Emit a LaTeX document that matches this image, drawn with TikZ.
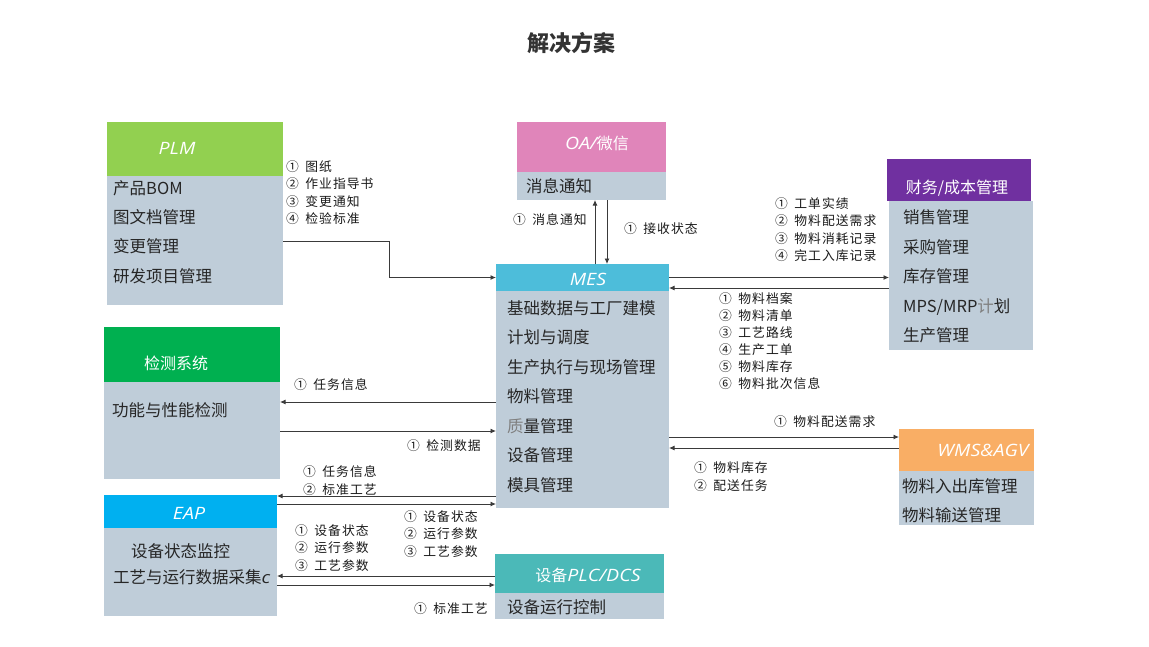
\documentclass[tikz,border=0pt]{standalone}
\usepackage{fontspec}
\setmainfont{Noto Sans CJK SC}
\newfontfamily\hdfont{Open Sans}[FakeStretch=1.15]
\newfontfamily\notefont{Noto Sans CJK SC}[LetterSpace=8]
\usetikzlibrary{positioning,arrows.meta}
\definecolor{plmgreen}{HTML}{92D050}
\definecolor{oapink}{HTML}{E085BA}
\definecolor{cwpurple}{HTML}{7030A0}
\definecolor{mesblue}{HTML}{4DBDDA}
\definecolor{jcgreen}{HTML}{00B050}
\definecolor{eapblue}{HTML}{00B0F0}
\definecolor{plcteal}{HTML}{4BB9B8}
\definecolor{wmsorange}{HTML}{F9AE65}
\definecolor{bodygray}{HTML}{BFCDD9}
\definecolor{itemtext}{HTML}{262626}
\definecolor{notetext}{HTML}{1A1A1A}
\definecolor{linegray}{HTML}{3A3A3A}
\definecolor{titlegray}{HTML}{333333}
\definecolor{faintgray}{HTML}{808080}
\begin{document}
\begin{tikzpicture}[x=1pt, y=-1pt]
        \tikzstyle{hdbox}=[inner sep=0, outer sep=0]
        \tikzstyle{hdtext}=[text=white, inner sep=0, font=\fontsize{16}{18}\selectfont]
        \tikzstyle{bdbox}=[fill=bodygray, inner sep=0, outer sep=0]
        \tikzstyle{items}=[anchor=west, inner sep=0, align=left, text=itemtext, font=\fontsize{16.5}{29.5}\selectfont]
        \tikzstyle{notes}=[anchor=west, inner sep=0, align=left, text=notetext, font=\notefont\fontsize{12.8}{17.3}\selectfont]
        \tikzstyle{flow}=[draw=linegray, line width=0.9pt, -{Latex[length=5.5pt,width=5pt]}]
        \fill[white] (0,0) rectangle (1149,646);
        \node[font=\bfseries\fontsize{22}{26}\selectfont, text=titlegray] (title) at (571,43) {解决方案};
        % Systems
        \node[hdbox, fill=plmgreen, minimum width=176, minimum height=54,
        label={[hdtext, xshift=-18, yshift=1]center:{\hdfont\itshape\fontsize{17}{18}\selectfont PLM}}] (plmhd) at (195,149) {};
        \node[bdbox, minimum width=176, minimum height=129, below=0 of plmhd] (plmbody) {};
        \node[items, font=\fontsize{16.5}{29.3}\selectfont] (plmlist) at (113,232) {产品BOM\\图文档管理\\变更管理\\研发项目管理};
        \node[hdbox, fill=oapink, minimum width=149, minimum height=50,
        label={[hdtext, xshift=5.5, yshift=4]center:{{\hdfont\itshape\fontsize{17}{18}\selectfont OA/}微信}}] (oahd) at (591.5,147) {};
        \node[bdbox, minimum width=149, minimum height=28, below=0 of oahd] (oabody) {};
        \node[items] (oalist) at (526,186) {消息通知};
        \node[hdbox, fill=cwpurple, minimum width=144, minimum height=42,
        label={[hdtext, xshift=-2, yshift=-8]center:{财务/成本管理}}] (cwhd) at (959,180) {};
        \node[bdbox, minimum width=144, minimum height=149, below=0 of cwhd, xshift=2] (cwbody) {};
        \node[items, font=\fontsize{16.5}{29.6}\selectfont] (cwlist) at (903,276.4) {销售管理\\采购管理\\库存管理\\MPS/MRP{\color{faintgray}计}划\\生产管理};
        \node[hdbox, fill=mesblue, minimum width=173, minimum height=27,
        label={[hdtext, xshift=5.5, yshift=-1.5]center:{\hdfont\itshape\fontsize{17}{18}\selectfont MES}}] (meshd) at (582.5,277.5) {};
        \node[bdbox, minimum width=173, minimum height=217, below=0 of meshd] (mesbody) {};
        \node[items] (meslist) at (507,396.5) {基础数据与工厂建模\\计划与调度\\生产执行与现场管理\\物料管理\\{\color{faintgray}质}量管理\\设备管理\\模具管理};
        \node[hdbox, fill=jcgreen, minimum width=176, minimum height=55,
        label={[hdtext, xshift=-16, yshift=-8.5]center:{检测系统}}] (jchd) at (192,354.5) {};
        \node[bdbox, minimum width=176, minimum height=97, below=0 of jchd] (jcbody) {};
        \node[items] (jclist) at (112,410) {功能与性能检测};
        \node[hdbox, fill=eapblue, minimum width=173, minimum height=33,
        label={[hdtext, xshift=-1.5, yshift=-1.5]center:{\hdfont\itshape\fontsize{17}{18}\selectfont EAP}}] (eaphd) at (190.5,511.5) {};
        \node[bdbox, minimum width=173, minimum height=88, below=0 of eaphd] (eapbody) {};
        \node[items, font=\fontsize{16.5}{26}\selectfont] (eaplist) at (113,564.5) {\hspace*{18pt}设备状态监控\\工艺与运行数据采集{\hdfont\itshape c}};
        \node[hdbox, fill=plcteal, minimum width=169, minimum height=39,
        label={[hdtext, xshift=8.5, yshift=-1.5]center:{设备{\hdfont\itshape\fontsize{17}{18}\selectfont PLC/DCS}}}] (plchd) at (579.5,573.5) {};
        \node[bdbox, minimum width=169, minimum height=26, below=0 of plchd] (plcbody) {};
        \node[items] (plclist) at (507,607) {设备运行控制};
        \node[hdbox, fill=wmsorange, minimum width=135, minimum height=42,
        label={[hdtext, xshift=16.5]center:{\hdfont\itshape\fontsize{17}{18}\selectfont WMS\&AGV}}] (wmshd) at (966.5,450) {};
        \node[bdbox, minimum width=135, minimum height=54, below=0 of wmshd] (wmsbody) {};
        \node[items, font=\fontsize{16.5}{29}\selectfont] (wmslist) at (902,500.5) {物料入出库管理\\物料输送管理};
        % Links
        \draw[flow] (plmbody.east |- 0,241) -| (389,0 |- meshd.west) -- (meshd.west);
        \draw[flow] (595,0 |- meshd.north) -- (595,0 |- oabody.south);
        \draw[flow] (607,0 |- oabody.south) -- (607,0 |- meshd.north);
        \draw[flow] (meshd.east) -- (cwbody.west |- meshd.east);
        \draw[flow] (cwbody.west |- 0,288) -- (meshd.east |- 0,288);
        \draw[flow] (mesbody.west |- 0,402) -- (jcbody.east |- 0,402);
        \draw[flow] (jcbody.east |- 0,431) -- (mesbody.west |- 0,431);
        \draw[flow] (mesbody.west |- 0,496) -- (eaphd.east |- 0,496);
        \draw[flow] (eaphd.east |- 0,504) -- (mesbody.west |- 0,504);
        \draw[flow] (plchd.west |- 0,576) -- (eapbody.east |- 0,576);
        \draw[flow] (eapbody.east |- 0,585) -- (plchd.west |- 0,585);
        \draw[flow] (mesbody.east |- 0,437) -- (wmshd.west |- 0,437);
        \draw[flow] (wmshd.west |- 0,448) -- (mesbody.east |- 0,448);
        % Link labels
        \node[notes] (plmnote) at (286,192.75) {①\enspace 图纸\\②\enspace 作业指导书\\③\enspace 变更通知\\④\enspace 检验标准};
        \node[notes] (oanote1) at (513,220) {①\enspace 消息通知};
        \node[notes] (oanote2) at (624,229) {①\enspace 接收状态};
        \node[notes] (cwnote1) at (775,229.75) {①\enspace 工单实绩\\②\enspace 物料配送需求\\③\enspace 物料消耗记录\\④\enspace 完工入库记录};
        \node[notes, font=\notefont\fontsize{12.8}{17}\selectfont] (cwnote2) at (719,341.5) {①\enspace 物料档案\\②\enspace 物料清单\\③\enspace 工艺路线\\④\enspace 生产工单\\⑤\enspace 物料库存\\⑥\enspace 物料批次信息};
        \node[notes] (jcnote1) at (294,385) {①\enspace 任务信息};
        \node[notes] (jcnote2) at (407,446) {①\enspace 检测数据};
        \node[notes] (eapnote1) at (303,480.5) {①\enspace 任务信息\\②\enspace 标准工艺};
        \node[notes] (eapnote2) at (404,534) {①\enspace 设备状态\\②\enspace 运行参数\\③\enspace 工艺参数};
        \node[notes] (plcnote1) at (295,548) {①\enspace 设备状态\\②\enspace 运行参数\\③\enspace 工艺参数};
        \node[notes] (plcnote2) at (414,609) {①\enspace 标准工艺};
        \node[notes] (wmsnote1) at (774,422) {①\enspace 物料配送需求};
        \node[notes] (wmsnote2) at (694,476.5) {①\enspace 物料库存\\②\enspace 配送任务};
\end{tikzpicture}
\end{document}
